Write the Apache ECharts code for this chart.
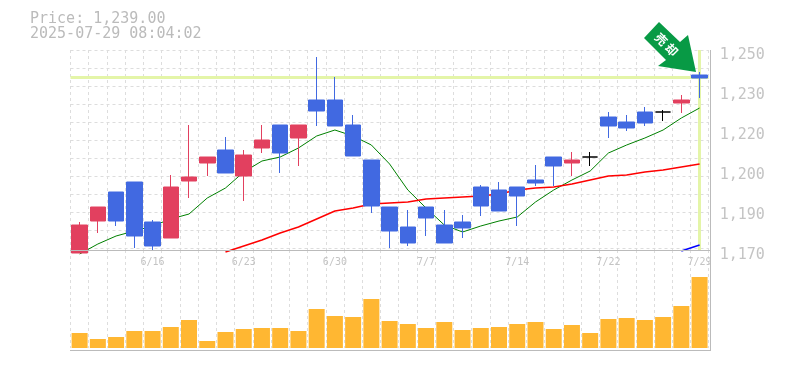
<!DOCTYPE html>
<html>
<head>
<meta charset="utf-8">
<title>Price chart</title>
<script src="https://cdn.jsdelivr.net/npm/echarts@6/dist/echarts.min.js"></script>
<style>
  html, body { margin: 0; padding: 0; background: #fff; }
  #chart { width: 785px; height: 370px; }
</style>
</head>
<body>
<div id="chart"></div>
<script>
var dates = ["6/10","6/11","6/12","6/13","6/16","6/17","6/18","6/19","6/20","6/23",
  "6/24","6/25","6/26","6/27","6/30","7/1","7/2","7/3","7/4","7/7",
  "7/8","7/9","7/10","7/11","7/14","7/15","7/16","7/17","7/18","7/22",
  "7/23","7/24","7/25","7/28","7/29"];

// open, close, low, high
var candles = [
  [1168.8,1180,1168.8,1181.2],[1181.6,1187.2,1176.8,1187.2],[1193.2,1181.6,1179.6,1193.2],
  [1197.2,1175.6,1170.8,1197.2],[1181.2,1171.6,1169.6,1182],[1174.8,1195.2,1174.8,1200],
  [1197.6,1199.2,1190.8,1220],[1204.8,1207.2,1199.6,1207.2],[1210,1200.8,1200.8,1215.2],
  [1199.6,1208,1189.6,1210],[1210.8,1214,1208.8,1220],[1220,1208.8,1200.8,1220],
  [1214.8,1220,1203.6,1220],[1230,1225.6,1219.6,1247.2],[1230,1219.6,1219.6,1239.2],
  [1220,1207.6,1207.6,1224],[1206,1187.6,1184.8,1206],[1187.2,1177.6,1170.8,1187.2],
  [1179.2,1172.8,1171.6,1186],[1187.2,1182.8,1175.6,1187.2],[1180,1172.8,1172.8,1186],
  [1181.2,1178.8,1174.8,1184],[1195.2,1187.6,1183.6,1196],[1194,1185.6,1185.6,1197.2],
  [1195.2,1191.6,1179.6,1195.2],[1198,1196.8,1195.6,1204],[1207.2,1203.6,1195.6,1207.2],
  [1204.8,1206,1199.6,1209.2],[1207.2,1207.2,1203.6,1209.2],[1223.2,1219.6,1214.8,1225.2],
  [1221.2,1218.8,1217.6,1224],[1225.2,1220.8,1219.6,1227.2],[1225.2,1225.2,1221.6,1226],
  [1228.8,1230,1224.8,1232],[1240,1238.8,1230.8,1241.2]
];

var maShort = [1168.4,1172.4,1175.6,1177.6,1179.6,1182.4,1184.4,1190.8,1194.8,1201.2,
  1205.6,1207.2,1210.8,1215.6,1218,1215.6,1212,1204.4,1194,1186.8,
  1180,1177.2,1179.6,1181.6,1183.2,1189.2,1194,1198,1201.6,1208.8,
  1212,1214.8,1218,1222.8,1226.8];
var maMid = [null,null,null,null,null,null,null,null,1169.2,1171.6,
  1174,1176.8,1179.2,1182.4,1185.6,1186.8,1188.4,1188.8,1189.2,1190.4,
  1190.8,1191.2,1191.6,1192.4,1194,1194.8,1195.2,1196.4,1198,1199.6,
  1200,1201.2,1202,1203.2,1204.4];
var maLong = [null,null,null,null,null,null,null,null,null,null,
  null,null,null,null,null,null,null,null,null,null,
  null,null,null,null,null,null,null,null,null,null,
  null,null,null,1169.6,1172];

var volumes = [15,9,11,17,17,21,28,7,16,19,20,20,17,39,32,31,49,27,24,20,
  26,18,20,21,24,26,19,23,15,29,30,28,31,42,71];

var priceTicks = [1170,1186,1202,1218,1234,1250];
var priceTickLabels = ["1,170","1,190","1,200","1,220","1,230","1,250"];
var lastPrice = 1239;
var lastDate = "7/29";
var headerLines = ["Price: 1,239.00","2025-07-29 08:04:02"];

var monoFont = '"DejaVu Sans Mono", monospace';
var upColor = "#e2405f";
var downColor = "#4169e1";
var gridColor = "#ddd";
var frameColor = "#bbb";
var nowColor = "#e4f5a8";
var plotLeft = 70.5;
var plotWidth = 638.2;

var myChart = echarts.init(document.getElementById("chart"));

myChart.setOption({
  animation: false,
  backgroundColor: "#fff",
  title: {
    text: headerLines.join("\n"),
    left: 30,
    top: 12,
    padding: 0,
    textStyle: {
      fontFamily: monoFont,
      fontSize: 15,
      fontWeight: "normal",
      lineHeight: 15,
      color: "#bbb",
    },
  },
  grid: [
    { left: plotLeft, width: plotWidth, top: 50, height: 200 },
    { left: plotLeft, width: plotWidth, top: 250, height: 98 },
  ],
  xAxis: [
    {
      type: "category",
      gridIndex: 0,
      data: dates,
      axisLine: { show: false },
      axisTick: { show: false },
      axisLabel: {
        interval: function (index) {
          return index % 5 === 4;
        },
        margin: 7,
        fontFamily: monoFont,
        fontSize: 10,
        color: "#c4c4c4",
      },
      splitLine: {
        show: true,
        interval: 0,
        lineStyle: { color: gridColor, type: [3, 3] },
      },
    },
    {
      type: "category",
      gridIndex: 1,
      data: dates,
      axisLine: { show: false },
      axisTick: { show: false },
      axisLabel: { show: false },
      splitLine: {
        show: true,
        interval: 0,
        lineStyle: { color: gridColor, type: [3, 3] },
      },
    },
  ],
  yAxis: [
    {
      type: "value",
      gridIndex: 0,
      position: "right",
      min: 1170,
      max: 1250,
      axisLine: { show: false },
      axisTick: { show: false },
      splitLine: { show: false },
      axisLabel: {
        customValues: priceTicks,
        margin: 11,
        verticalAlign: "top",
        lineHeight: 10,
        fontFamily: monoFont,
        fontSize: 15,
        color: "#c4c4c4",
        formatter: function (value) {
          return priceTickLabels[priceTicks.indexOf(value)];
        },
      },
    },
    {
      // only carries the dashed rows, they are counted from the top
      type: "value",
      gridIndex: 0,
      inverse: true,
      min: 0,
      max: 200 / 18,
      interval: 1,
      axisLine: { show: false },
      axisTick: { show: false },
      axisLabel: { show: false },
      splitLine: {
        show: true,
        lineStyle: { color: gridColor, type: [3, 3] },
      },
    },
    {
      type: "value",
      gridIndex: 1,
      min: 0,
      max: 98,
      show: false,
    },
  ],
  series: [
    {
      type: "line",
      name: "now",
      xAxisIndex: 0,
      yAxisIndex: 0,
      data: [],
      z: 1,
      silent: true,
      markLine: {
        z: 1,
        silent: true,
        symbol: "none",
        label: { show: false },
        lineStyle: { color: nowColor, width: 3, type: "solid" },
        data: [{ yAxis: lastPrice }, { xAxis: lastDate }],
      },
    },
    {
      type: "line",
      name: "ma short",
      xAxisIndex: 0,
      yAxisIndex: 0,
      data: maShort,
      showSymbol: false,
      clip: false,
      z: 2,
      lineStyle: { color: "#008000", width: 1 },
    },
    {
      type: "line",
      name: "ma mid",
      xAxisIndex: 0,
      yAxisIndex: 0,
      data: maMid,
      showSymbol: false,
      clip: false,
      z: 2,
      lineStyle: { color: "#ff0000", width: 1.5 },
    },
    {
      type: "line",
      name: "ma long",
      xAxisIndex: 0,
      yAxisIndex: 0,
      data: maLong,
      showSymbol: false,
      clip: false,
      z: 2,
      lineStyle: { color: "#0000ff", width: 1.5 },
    },
    {
      type: "candlestick",
      name: "price",
      xAxisIndex: 0,
      yAxisIndex: 0,
      data: candles,
      barWidth: 16,
      clip: false,
      z: 3,
      itemStyle: {
        color: upColor,
        color0: downColor,
        borderColor: upColor,
        borderColor0: downColor,
        borderColorDoji: "#000",
        borderWidth: 1,
      },
    },
    {
      type: "bar",
      name: "volume",
      xAxisIndex: 1,
      yAxisIndex: 2,
      data: volumes,
      barWidth: 16,
      itemStyle: { color: "#ffb732" },
    },
  ],
  graphic: [
    {
      type: "line",
      shape: { x1: 70, y1: 250.5, x2: 710, y2: 250.5 },
      style: { stroke: frameColor, lineWidth: 1 },
      z: 4,
    },
    {
      type: "line",
      shape: { x1: 70, y1: 350.5, x2: 710, y2: 350.5 },
      style: { stroke: frameColor, lineWidth: 1 },
      z: 4,
    },
    {
      type: "line",
      shape: { x1: 710.5, y1: 50, x2: 710.5, y2: 351 },
      style: { stroke: frameColor, lineWidth: 1 },
      z: 4,
    },
    {
      type: "polygon",
      shape: {
        points: [[659, 22], [644, 38], [666, 60], [658, 66], [696, 72], [688, 35], [680, 42]],
      },
      style: { fill: "#089a45" },
      z: 10,
    },
    {
      type: "text",
      x: 666.5,
      y: 44.5,
      rotation: -Math.PI / 4,
      style: {
        text: "売 却",
        fill: "#fff",
        font: 'bold 12px "Noto Sans CJK JP"',
        align: "center",
        verticalAlign: "middle",
      },
      z: 11,
    },
  ],
});
</script>
</body>
</html>
